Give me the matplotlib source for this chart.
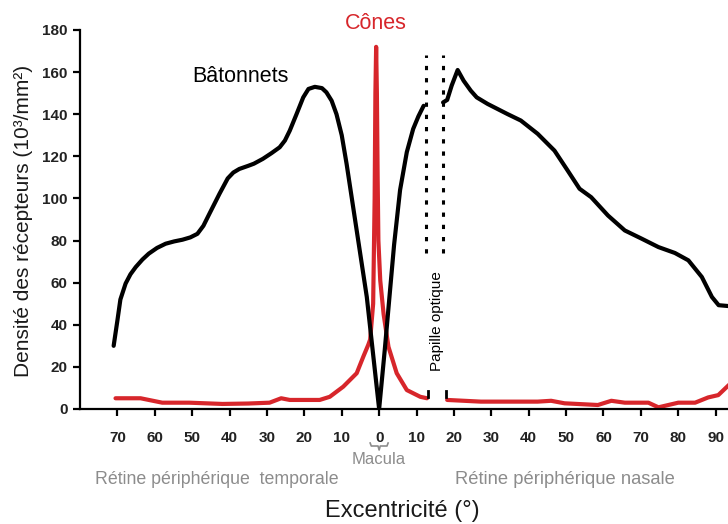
import matplotlib
matplotlib.use("Agg")
import matplotlib.pyplot as plt
import matplotlib.transforms as mtransforms

plt.rcParams['font.family'] = ['Liberation Sans', 'DejaVu Sans']

# Rod density (10^3/mm^2) vs eccentricity (deg; negative = temporal side)
rods_temporal_x = [-71.0, -70.0, -69.2, -67.8, -66.5, -65.1, -63.3, -61.6, -59.4, -57.1,
                   -54.8, -52.6, -50.5, -48.6, -47.0, -45.4, -42.7,
                   -40.5, -39.0, -37.4, -35.0, -33.5, -31.1, -28.8, -26.6, -25.2, -23.9,
                   -22.1, -20.3, -18.9, -17.2, -15.3, -14.1, -12.7, -11.4, -10.0, -8.7,
                   -6.0, -3.3, 0.0,
                   1.5, 3.0, 4.0, 5.6, 6.5, 7.4, 9.1, 10.5, 11.9]
rods_temporal_y = [30, 42, 52, 59.6, 64, 67.4, 71, 73.8, 76.5, 78.5,
                   79.6, 80.4, 81.5, 83.2, 87, 92.7, 102.2,
                   109.5, 112.3, 114, 115.5, 116.5, 118.8, 121.5, 124.3, 127.5, 132.2,
                   140, 148, 152, 153, 152.4, 150.4, 146.4, 140, 130, 116.4,
                   84.8, 53.2, 0,
                   28, 58, 78, 104, 113, 122, 133, 139, 144]
rods_nasal_x = [17.1, 18.2, 19.4, 21.0, 22.6, 24.5, 26.1, 29.0, 34.3, 37.9, 42.4, 46.9,
                50.4, 53.6, 56.7, 61.2, 65.7, 70.2, 74.7, 79.1, 82.7, 86.3, 89.0,
                90.8, 94.0]
rods_nasal_y = [145.6, 146.8, 153.6, 161, 155.9, 151.2, 148, 144.9, 140.1, 137, 130.7, 122.7,
                113.3, 104.6, 100.6, 91.9, 84.8, 80.9, 76.9, 74.1, 70.6, 62.7, 53.2,
                49.3, 48.8]

# Cone density
cones_temporal_x = [-70.5, -63.8, -58.0, -50.8, -41.9, -35.0, -29.3, -26.2, -23.9, -15.9,
                    -13.2, -9.6, -6.0, -4.2, -2.9, -2.4, -1.6, -1.2, -1.0, -0.8,
                    -0.6, -0.4, -0.2, 0.3, 1.2, 2.5, 4.7, 7.4, 11.0, 12.8]
cones_temporal_y = [5.1, 5.1, 3.0, 3.0, 2.4, 2.6, 3.0, 5.1, 4.3, 4.3,
                    5.8, 10.6, 17, 25, 30.5, 33, 50, 100, 150, 172,
                    150, 110, 80, 61, 45, 29.5, 17, 9, 5.8, 5.1]
cones_nasal_x = [18.2, 27.2, 42.4, 46.0, 49.6, 58.5, 62.1, 65.7, 72.0, 74.7,
                 80.0, 84.5, 88.0, 90.7, 94.0]
cones_nasal_y = [4.3, 3.5, 3.5, 3.9, 2.7, 1.9, 3.9, 3.0, 3.0, 0.8,
                 3.0, 3.0, 5.5, 6.6, 12.2]

# Optic disc (blind spot) boundaries
disc_edges = [12.6, 17.0]
disc_span = [74, 168]
disc_marks = [13.2, 18.0]
disc_mark_span = [5.5, 8.5]

x_ticks = [-70, -60, -50, -40, -30, -20, -10, 0, 10, 20, 30, 40, 50, 60, 70, 80, 90]
x_tick_labels = [str(abs(t)) for t in x_ticks]
y_ticks = [0, 20, 40, 60, 80, 100, 120, 140, 160, 180]

RED = '#d7262b'
GREY = '#8c8c8c'

fig = plt.figure(figsize=(7.28, 5.24), dpi=100)
ax = fig.add_axes([80 / 728, 115 / 524, 648 / 728, 379 / 524])

line_kw = dict(lw=3, solid_joinstyle='round', solid_capstyle='round')
ax.plot(cones_temporal_x, cones_temporal_y, color=RED, **line_kw)
ax.plot(cones_nasal_x, cones_nasal_y, color=RED, **line_kw)
ax.plot(rods_temporal_x, rods_temporal_y, color='black', **line_kw)
ax.plot(rods_nasal_x, rods_nasal_y, color='black', **line_kw)

for xe in disc_edges:
    ax.plot([xe, xe], disc_span, color='black', lw=2.2, linestyle=(0, (1.4, 2.6)))
for xm in disc_marks:
    ax.plot([xm, xm], disc_mark_span, color='black', lw=2.0)

ax.text(15.6, 42, 'Papille optique', rotation=90, ha='center', va='center',
        fontsize=11, color='black')
ax.text(-37.2, 158, 'Bâtonnets', ha='center', va='center', fontsize=15.5, color='black')
ax.text(-1.0, 183, 'Cônes', ha='center', va='center', fontsize=15.5, color=RED,
        clip_on=False)

ax.set_xlim(-80, 93.3)
ax.set_ylim(0, 180)
ax.set_xticks(x_ticks)
ax.set_xticklabels(x_tick_labels)
ax.set_yticks(y_ticks)

for side in ('top', 'right'):
    ax.spines[side].set_visible(False)
for side in ('left', 'bottom'):
    ax.spines[side].set_linewidth(1.6)
    ax.spines[side].set_color('black')

ax.tick_params(axis='both', direction='out', length=5, width=1.6, colors='black',
               labelcolor='#222222', labelsize=11)
ax.tick_params(axis='x', pad=11)
ax.tick_params(axis='y', pad=4)
for lab in ax.get_xticklabels() + ax.get_yticklabels():
    lab.set_fontweight('bold')

# Region annotations below the axis
blend = mtransforms.blended_transform_factory(ax.transData, fig.transFigure)


def fy(px):
    return (524 - px) / 524


ax.plot([-2.4, -2.1, -0.3, 0.0, 0.3, 2.1, 2.4],
        [fy(443), fy(446), fy(446), fy(450), fy(446), fy(446), fy(443)],
        color=GREY, lw=1.2, transform=blend, clip_on=False)
fig.text(379 / 728, fy(460), 'Macula', ha='center', va='center', fontsize=12, color=GREY)
fig.text(95 / 728, fy(479), 'Rétine périphérique  temporale', ha='left', va='center',
         fontsize=12.8, color=GREY)
fig.text(455 / 728, fy(479), 'Rétine périphérique nasale', ha='left', va='center',
         fontsize=13.2, color=GREY)
fig.text(402 / 728, fy(511), 'Excentricité (°)', ha='center', va='center',
         fontsize=17, color='#1a1a1a')
fig.text(24 / 728, fy(221), 'Densité des récepteurs (10³/mm²)', rotation=90,
         ha='center', va='center', fontsize=15, color='#1a1a1a')

fig.savefig('out.png', dpi=100)
